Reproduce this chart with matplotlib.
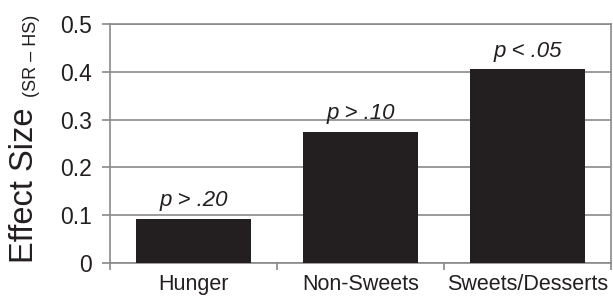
import matplotlib.pyplot as plt

plt.rcParams['font.family'] = ['Liberation Sans', 'DejaVu Sans']

# Daten
categories = ['Hunger', 'Non-Sweets', 'Sweets/Desserts']
effect_size = [0.093, 0.275, 0.405]
p_labels = ['p > .20', 'p > .10', 'p < .05']
y_ticks = [0, 0.1, 0.2, 0.3, 0.4, 0.5]
y_tick_labels = ['0', '0.1', '0.2', '0.3', '0.4', '0.5']

fig = plt.figure(figsize=(6.13, 2.99), dpi=100)
ax = fig.add_axes([110 / 613, 36 / 299, 501 / 613, 239 / 299])

x = list(range(len(categories)))
bars = ax.bar(x, effect_size, width=0.69, color='#231f20', zorder=3)

for xi, val, lab in zip(x, effect_size, p_labels):
    ax.annotate(lab, (xi, val), xytext=(0, 9), textcoords='offset points',
                ha='center', va='baseline', fontsize=16, style='italic',
                color='#231f20')

ax.set_xlim(-0.5, len(categories) - 0.5)
ax.set_ylim(0, 0.5)
ax.set_yticks(y_ticks)
ax.set_yticklabels(y_tick_labels, fontsize=16.5, color='#231f20')
ax.yaxis.grid(True, color='#8a8a8a', linewidth=1.2, zorder=0)

# Kategoriegrenzen als Ticks, Namen mittig
ax.set_xticks([i - 0.5 for i in range(len(categories) + 1)])
ax.set_xticklabels([])
ax.set_xticks(x, minor=True)
ax.set_xticklabels(categories, minor=True, fontsize=15.5, color='#231f20')
ax.tick_params(axis='x', which='minor', length=0, pad=8)
ax.tick_params(axis='x', which='major', length=5, color='#8a8a8a', width=1.2)
ax.tick_params(axis='y', length=6, color='#8a8a8a', width=1.2, pad=7)

for s in ax.spines.values():
    s.set_color('#8a8a8a')
    s.set_linewidth(1.2)

fig.text(25 / 613, 1 - 185 / 299, 'Effect Size', rotation=90, ha='center',
         va='center', fontsize=23.5, color='#231f20')
fig.text(32 / 613, 1 - 56 / 299, '(SR \u2013 HS)', rotation=90, ha='center',
         va='center', fontsize=13, color='#231f20')

plt.savefig('out.png', dpi=100)
plt.close()
